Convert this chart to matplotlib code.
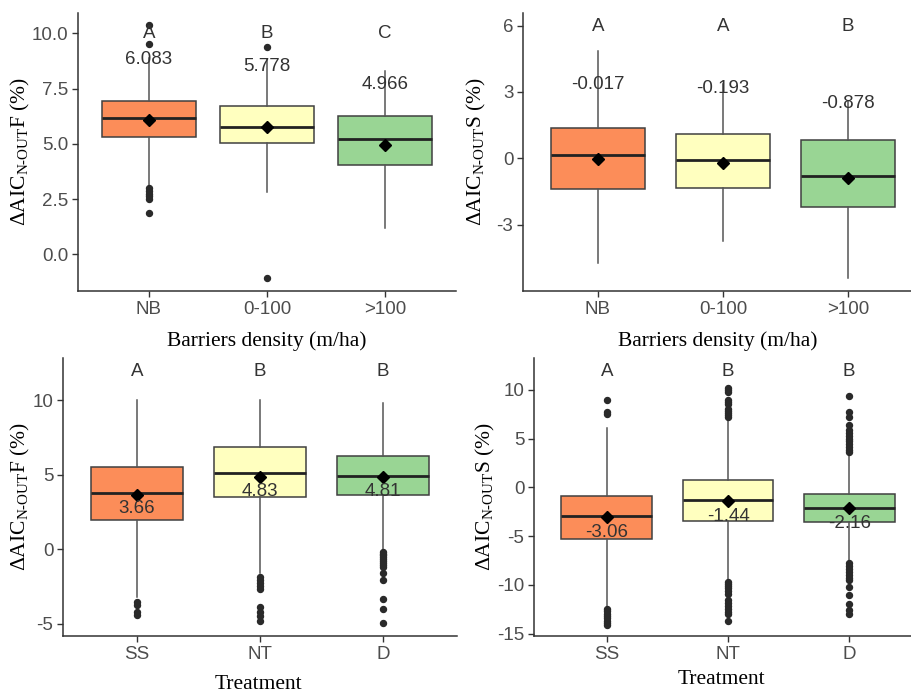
import matplotlib
matplotlib.use("Agg")
import matplotlib.pyplot as plt

plt.rcParams['mathtext.fontset'] = 'custom'
plt.rcParams['mathtext.rm'] = 'Liberation Serif'
plt.rcParams['mathtext.it'] = 'Liberation Serif:italic'

# ---------------- data ----------------
density_cats = ["NB", "0-100", ">100"]
treat_cats = ["SS", "NT", "D"]
box_colors = ["#FC8D59", "#FFFFBF", "#99D594"]

# Panel A: ΔAIC F vs barrier density
fA_q1 = [5.32, 5.05, 4.04]
fA_med = [6.18, 5.76, 5.20]
fA_q3 = [6.95, 6.72, 6.26]
fA_lo = [3.10, 2.83, 1.20]
fA_hi = [8.90, 8.85, 8.31]
fA_mean = [6.083, 5.778, 4.966]
fA_fliers = [[10.37, 9.50, 3.00, 2.85, 2.75, 2.62, 2.52, 1.85],
             [9.39, -1.09],
             []]
fA_letters = ["A", "B", "C"]

# Panel B: ΔAIC S vs barrier density
sB_q1 = [-1.40, -1.36, -2.22]
sB_med = [0.135, -0.08, -0.79]
sB_q3 = [1.36, 1.09, 0.83]
sB_lo = [-4.75, -3.73, -5.39]
sB_hi = [4.83, 3.36, 2.59]
sB_mean = [-0.017, -0.193, -0.878]
sB_fliers = [[], [], []]
sB_letters = ["A", "A", "B"]

# Panel C: ΔAIC F vs treatment
fC_q1 = [1.95, 3.47, 3.63]
fC_med = [3.74, 5.09, 4.90]
fC_q3 = [5.53, 6.88, 6.25]
fC_lo = [-3.20, -1.63, -0.07]
fC_hi = [10.0, 10.0, 9.80]
fC_mean = [3.66, 4.83, 4.81]
fC_fliers = [[-3.53, -3.76, -4.20, -4.43],
             [-1.90, -2.10, -2.30, -2.50, -2.70, -3.90, -4.20, -4.50, -4.80],
             [-0.18, -0.30, -0.42, -0.55, -0.68, -0.80, -0.92, -1.05, -1.19,
              -1.59, -2.08, -3.38, -3.99, -4.99]]
fC_letters = ["A", "B", "B"]

# Panel D: ΔAIC S vs treatment
sD_q1 = [-5.35, -3.50, -3.60]
sD_med = [-2.95, -1.30, -2.16]
sD_q3 = [-0.86, 0.72, -0.72]
sD_lo = [-12.30, -9.46, -7.65]
sD_hi = [6.06, 6.99, 3.56]
sD_mean = [-3.06, -1.44, -2.16]
sD_fliers = [[8.97, 7.70, 7.50, -12.45, -12.70, -12.95, -13.20, -13.45, -13.70, -13.95, -14.15],
             [10.0, 9.8, 10.2, 8.5, 8.7, 9.0, 7.2, 7.4, 7.6, 7.8, 8.0,
              -9.7, -9.9, -10.1, -10.3, -10.6, -10.9, -11.6, -11.9, -12.2, -12.5, -12.8, -12.95, -13.71],
             [9.38, 7.77, 7.26, 6.4, 5.89, 5.6, 5.3, 5.0, 4.7, 4.4, 4.1, 3.8, 3.66,
              -7.8, -8.1, -8.4, -8.7, -9.0, -9.3, -9.53, -10.2, -11.07, -12.0, -12.6, -12.95]]
sD_letters = ["A", "B", "B"]

# ---------------- style ----------------
W, H = 911, 695
fig = plt.figure(figsize=(W / 100, H / 100), dpi=100)

def frac(x0, x1, y0, y1):
    return [x0 / W, 1 - y1 / H, (x1 - x0) / W, (y1 - y0) / H]

TXT = "#333333"
TICK = "#4D4D4D"
SANS = "Liberation Sans"
SERIF = "Liberation Serif"
FS = 13.5

def panel(rect, cats, q1, med, q3, lo, hi, mean, fliers, letters,
          ylim, yticks, yticklabels, letter_y, label_off, ylabel, xlabel,
          ylab_x, xlab_xy, fmt, bw=0.75):
    ax = fig.add_axes(rect)
    stats = []
    for i in range(len(cats)):
        stats.append(dict(q1=q1[i], med=med[i], q3=q3[i], whislo=lo[i],
                          whishi=hi[i], fliers=fliers[i], mean=mean[i]))
    pos = list(range(1, len(cats) + 1))
    bp = ax.bxp(stats, positions=pos, widths=bw, patch_artist=True,
                showcaps=False, showmeans=True, showfliers=True,
                boxprops=dict(edgecolor="#404040", linewidth=1.1),
                whiskerprops=dict(color="#555555", linewidth=1.1),
                medianprops=dict(color="#222222", linewidth=2.0),
                meanprops=dict(marker="D", markerfacecolor="black",
                               markeredgecolor="black", markersize=6.5),
                flierprops=dict(marker="o", markerfacecolor="#2a2a2a",
                                markeredgecolor="#2a2a2a", markersize=4.3))
    for patch, c in zip(bp["boxes"], box_colors):
        patch.set_facecolor(c)
    for m in bp["means"]:
        m.set_zorder(5)
    for i, p in enumerate(pos):
        ax.text(p, letter_y, letters[i], ha="center", va="center",
                fontsize=FS, color=TXT, family=SANS)
        ax.text(p, mean[i] + label_off, fmt.format(mean[i]), ha="center",
                va="center", fontsize=FS, color=TXT, family=SANS, zorder=6)
    ax.set_xlim(0.4, 3.6)
    ax.set_ylim(*ylim)
    ax.set_xticks(pos)
    ax.set_xticklabels(cats, fontsize=FS, color=TICK, family=SANS)
    ax.set_yticks(yticks)
    ax.set_yticklabels(yticklabels, fontsize=FS, color=TICK, family=SANS)
    for s in ["top", "right"]:
        ax.spines[s].set_visible(False)
    for s in ["left", "bottom"]:
        ax.spines[s].set_color("#333333")
        ax.spines[s].set_linewidth(1.1)
    ax.tick_params(axis="both", length=4, width=1.0, color="#333333", pad=3)
    ax.set_ylabel(ylabel, fontsize=15.5, family=SERIF, color="black")
    ax.yaxis.set_label_coords(ylab_x, 0.5)
    ax.set_xlabel(xlabel, fontsize=15.5, family=SERIF, color="black")
    ax.xaxis.set_label_coords(*xlab_xy)
    return ax

ylabF = r"$\mathrm{\Delta AIC}_{\mathrm{N\text{-}OUT}}\mathrm{F}$ (%)"
ylabS = r"$\mathrm{\Delta AIC}_{\mathrm{N\text{-}OUT}}\mathrm{S}$ (%)"

panel(frac(78, 456, 13, 291), density_cats, fA_q1, fA_med, fA_q3, fA_lo, fA_hi,
      fA_mean, fA_fliers, fA_letters, (-1.66, 10.92), [0, 2.5, 5, 7.5, 10],
      ["0.0", "2.5", "5.0", "7.5", "10.0"], 10.0, 2.74, ylabF,
      "Barriers density (m/ha)", -0.122, (0.5, -0.146), "{:.3f}", bw=0.79)

panel(frac(523, 923, 13, 291), density_cats, sB_q1, sB_med, sB_q3, sB_lo, sB_hi,
      sB_mean, sB_fliers, sB_letters, (-6.0, 6.57), [-3, 0, 3, 6],
      ["-3", "0", "3", "6"], 5.95, 3.34, ylabS,
      "Barriers density (m/ha)", -0.0875, (0.4875, -0.146), "{:.3f}")

panel(frac(63, 457, 358, 636), treat_cats, fC_q1, fC_med, fC_q3, fC_lo, fC_hi,
      fC_mean, fC_fliers, fC_letters, (-5.83, 12.82), [-5, 0, 5, 10],
      ["-5", "0", "5", "10"], 11.9, -0.97, ylabF,
      "Treatment", -0.079, (0.497, -0.14), "{:.2f}")

panel(frac(534, 922, 358, 636), treat_cats, sD_q1, sD_med, sD_q3, sD_lo, sD_hi,
      sD_mean, sD_fliers, sD_letters, (-15.25, 13.26), [-15, -10, -5, 0, 5, 10],
      ["-15", "-10", "-5", "0", "5", "10"], 11.88, -1.54, ylabS,
      "Treatment", -0.096, (0.484, -0.122), "{:.2f}")

fig.savefig("out.png", dpi=100)
